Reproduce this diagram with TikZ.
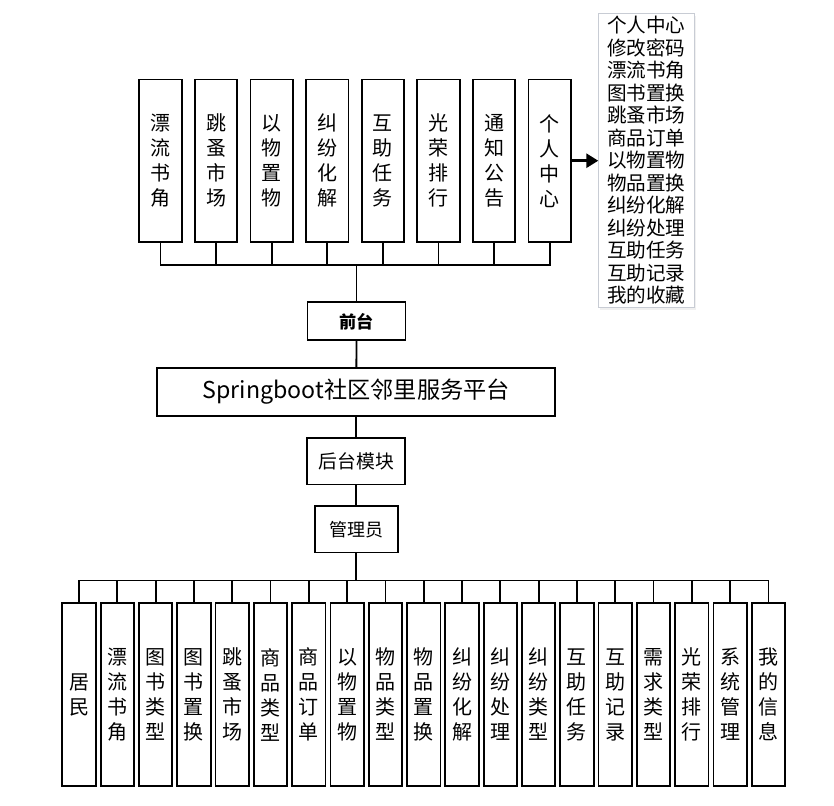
\documentclass[tikz,border=0pt]{standalone}
\usepackage{fontspec}
\setmainfont{Noto Sans CJK SC}
\usepackage{tikz}
\usetikzlibrary{arrows.meta, positioning, shadows}
\definecolor{listgray}{RGB}{200,204,212}
\tikzstyle{topbox}  = [rectangle, draw=black, line width=0.9pt, minimum width=21.2pt,
                       minimum height=81.3pt, inner sep=0pt, outer sep=0pt, align=center,
                       font=\fontsize{10}{12.5}\selectfont]
\tikzstyle{botbox}  = [rectangle, draw=black, line width=0.9pt, minimum width=16.7pt,
                       minimum height=91.2pt, inner sep=0pt, outer sep=0pt, align=center,
                       font=\fontsize{10}{12.5}\selectfont]
\tikzstyle{midbox}  = [rectangle, draw=black, line width=0.9pt, inner sep=0pt, outer sep=0pt, align=center]
\tikzstyle{listbox} = [rectangle, draw=listgray, line width=0.6pt, fill=white,
                       minimum width=48pt, minimum height=147pt, inner xsep=0pt, inner ysep=0.3pt,
                       outer sep=0pt, align=center, font=\fontsize{9.8}{11.25}\selectfont,
                       drop shadow={opacity=0.12, shadow xshift=1pt, shadow yshift=-1.2pt}]
\tikzstyle{line}    = [line width=0.9pt]
\tikzstyle{arrow}   = [-{Triangle[length=6pt, width=7pt]}, line width=1.4pt]

\begin{document}
\begin{tikzpicture}[x=0.5pt, y=-0.5pt]
    \useasboundingbox (0,0) rectangle (834,805);

    % front-end modules
    \node (piaoliu) [topbox] at (160.5,160.7) {漂\\流\\书\\角};
    \node (tiaozao) [topbox, right=6.6pt of piaoliu] {跳\\蚤\\市\\场};
    \node (yiwu)    [topbox, right=6.6pt of tiaozao] {以\\物\\置\\物};
    \node (jiufen)  [topbox, right=6.6pt of yiwu] {纠\\纷\\化\\解};
    \node (huzhu)   [topbox, right=6.6pt of jiufen] {互\\助\\任\\务};
    \node (guangr)  [topbox, right=6.6pt of huzhu] {光\\荣\\排\\行};
    \node (tongzhi) [topbox, right=6.6pt of guangr] {通\\知\\公\\告};
    \node (geren)   [topbox, right=6.6pt of tongzhi] {个\\人\\中\\心};

    \node (gerenlist) [listbox] at (646.3,160.3) {个人中心\\修改密码\\漂流书角\\图书置换\\跳蚤市场\\商品订单\\以物置物\\物品置换\\纠纷化解\\纠纷处理\\互助任务\\互助记录\\我的收藏};

    % middle column
    \node (qiantai)  [midbox, minimum width=49pt, minimum height=19pt,
                      font=\fontsize{8.6}{10}\selectfont\bfseries] at (356.5,321.3) {前台};
    \node (platform) [midbox, minimum width=199pt, minimum height=23.7pt,
                      font=\fontsize{11.6}{14}\selectfont] at (356.3,392) {Springboot社区邻里服务平台};
    \node (houtai)   [midbox, minimum width=49pt, minimum height=23.2pt,
                      font=\fontsize{9.4}{11}\selectfont] at (356.3,461.2) {后台模块};
    \node (admin)    [midbox, minimum width=41.7pt, minimum height=23.2pt,
                      font=\fontsize{9}{11}\selectfont] at (356.3,529.2) {管理员};

    % back-end modules
    \node (jumin)   [botbox] at (79,694.5) {居\\民};
    \node (b02) [botbox, right=2.45pt of jumin] {漂\\流\\书\\角};
    \node (b03) [botbox, right=2.45pt of b02] {图\\书\\类\\型};
    \node (b04) [botbox, right=2.45pt of b03] {图\\书\\置\\换};
    \node (b05) [botbox, right=2.45pt of b04] {跳\\蚤\\市\\场};
    \node (b06) [botbox, right=2.45pt of b05] {商\\品\\类\\型};
    \node (b07) [botbox, right=2.45pt of b06] {商\\品\\订\\单};
    \node (b08) [botbox, right=2.45pt of b07] {以\\物\\置\\物};
    \node (b09) [botbox, right=2.45pt of b08] {物\\品\\类\\型};
    \node (b10) [botbox, right=2.45pt of b09] {物\\品\\置\\换};
    \node (b11) [botbox, right=2.45pt of b10] {纠\\纷\\化\\解};
    \node (b12) [botbox, right=2.45pt of b11] {纠\\纷\\处\\理};
    \node (b13) [botbox, right=2.45pt of b12] {纠\\纷\\类\\型};
    \node (b14) [botbox, right=2.45pt of b13] {互\\助\\任\\务};
    \node (b15) [botbox, right=2.45pt of b14] {互\\助\\记\\录};
    \node (b16) [botbox, right=2.45pt of b15] {需\\求\\类\\型};
    \node (b17) [botbox, right=2.45pt of b16] {光\\荣\\排\\行};
    \node (b18) [botbox, right=2.45pt of b17] {系\\统\\管\\理};
    \node (xinxi) [botbox, right=2.45pt of b18] {我\\的\\信\\息};

    \coordinate (topbus) at (356.5,265);
    \coordinate (botbus) at (356.3,580.5);

    % top tree
    \draw[line] (piaoliu.south) |- (topbus) -| (geren.south);
    \draw[line] (tiaozao.south) -- (tiaozao.south |- topbus);
    \draw[line] (yiwu.south) -- (yiwu.south |- topbus);
    \draw[line] (jiufen.south) -- (jiufen.south |- topbus);
    \draw[line] (huzhu.south) -- (huzhu.south |- topbus);
    \draw[line] (guangr.south) -- (guangr.south |- topbus);
    \draw[line] (tongzhi.south) -- (tongzhi.south |- topbus);
    \draw[line] (topbus) -- (qiantai.north);
    \draw[arrow] (geren.east) -- (geren.east -| gerenlist.west);

    % middle column
    \draw[line] (qiantai) -- (platform);
    \draw[line] (platform) -- (houtai);
    \draw[line] (houtai) -- (admin);
    \draw[line] (admin.south) -- (botbus);

    % bottom tree
    \draw[line] (jumin.north) |- (botbus) -| (xinxi.north);
    \draw[line] (b02.north) -- (b02.north |- botbus);
    \draw[line] (b03.north) -- (b03.north |- botbus);
    \draw[line] (b04.north) -- (b04.north |- botbus);
    \draw[line] (b05.north) -- (b05.north |- botbus);
    \draw[line] (b06.north) -- (b06.north |- botbus);
    \draw[line] (b07.north) -- (b07.north |- botbus);
    \draw[line] (b08.north) -- (b08.north |- botbus);
    \draw[line] (b09.north) -- (b09.north |- botbus);
    \draw[line] (b10.north) -- (b10.north |- botbus);
    \draw[line] (b11.north) -- (b11.north |- botbus);
    \draw[line] (b12.north) -- (b12.north |- botbus);
    \draw[line] (b13.north) -- (b13.north |- botbus);
    \draw[line] (b14.north) -- (b14.north |- botbus);
    \draw[line] (b15.north) -- (b15.north |- botbus);
    \draw[line] (b16.north) -- (b16.north |- botbus);
    \draw[line] (b17.north) -- (b17.north |- botbus);
    \draw[line] (b18.north) -- (b18.north |- botbus);
\end{tikzpicture}
\end{document}
